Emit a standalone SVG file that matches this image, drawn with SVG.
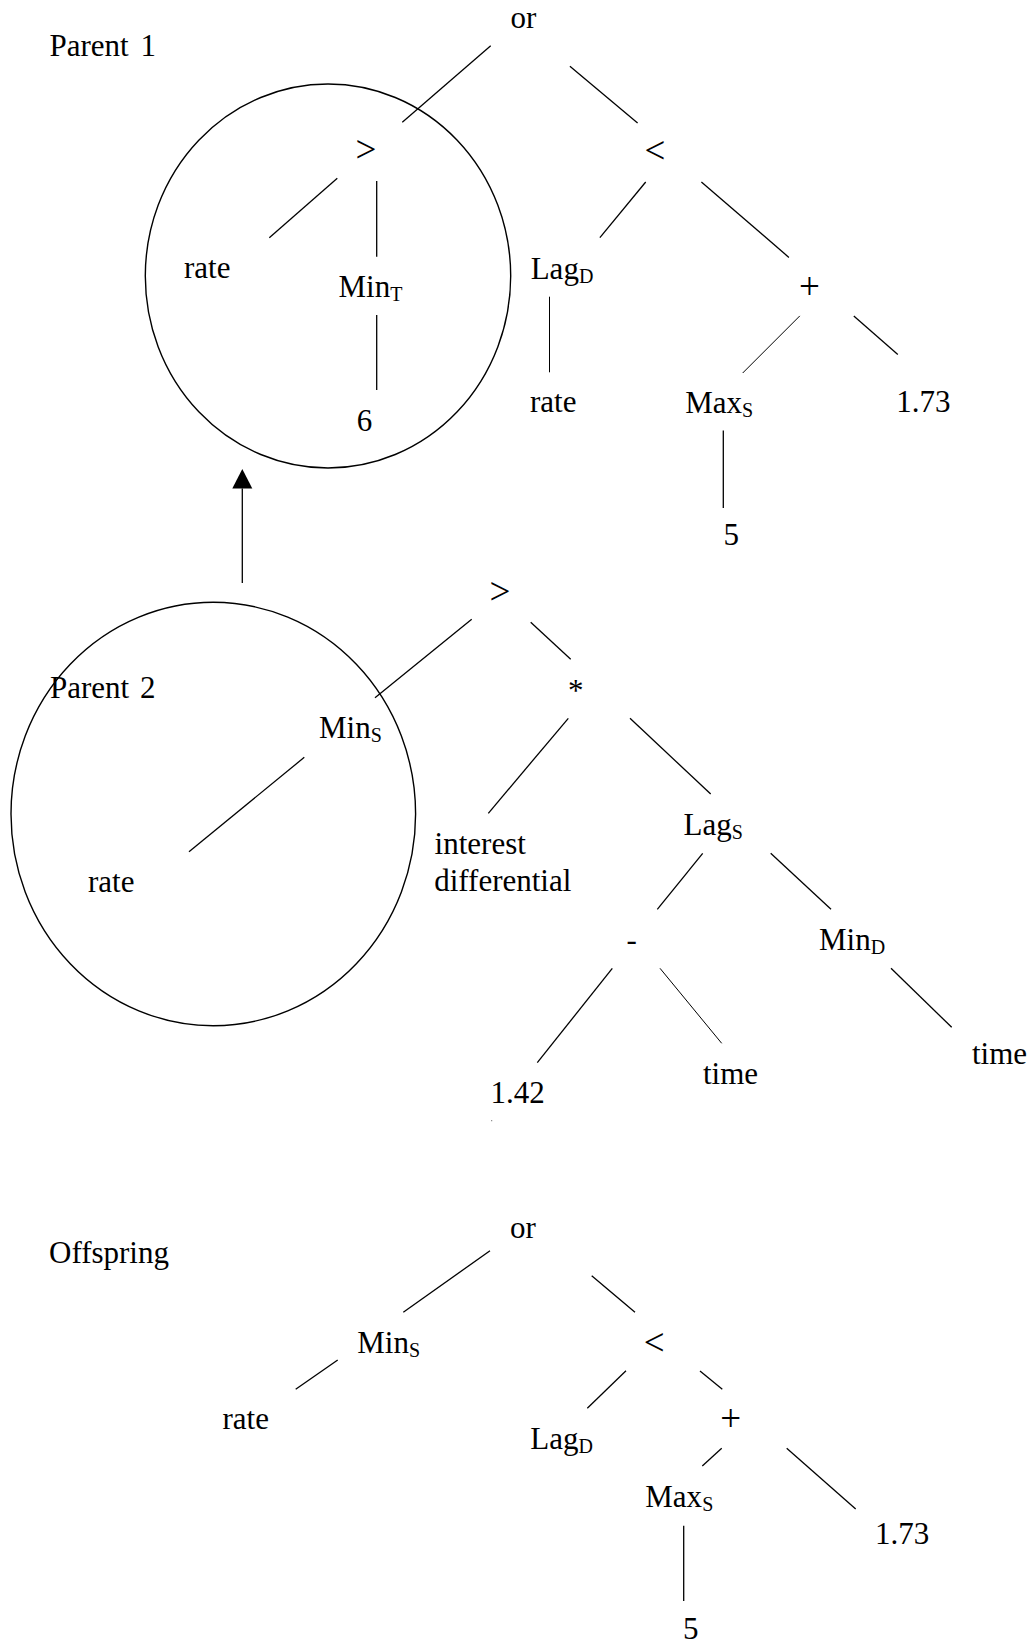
<svg xmlns="http://www.w3.org/2000/svg" width="1030" height="1648" viewBox="0 0 1030 1648">
<defs>
<style>
text{font-family:"Liberation Serif","Times New Roman",serif;font-size:31px;fill:#000}
.sub{font-size:20px}
.op{font-size:37px;text-anchor:middle}
.ln{stroke:#000;stroke-width:1.3;fill:none}
.thin{stroke-width:1}
.ring{stroke:#000;stroke-width:1.4;fill:none}
</style>
<marker id="arrow" markerUnits="userSpaceOnUse" markerWidth="20" markerHeight="20" refX="0" refY="10" orient="auto" overflow="visible">
<path d="M0,0 L19.5,10 L0,20 Z" fill="#000"/>
</marker>
</defs>
<rect width="1030" height="1648" fill="#fff"/>

<g id="highlights">
<ellipse id="circle-parent1" class="ring" cx="328" cy="276" rx="182.7" ry="192"/>
<ellipse id="circle-parent2" class="ring" cx="213.3" cy="814" rx="202.3" ry="211.7"/>
</g>

<g id="connectors">
<!-- Parent 1 -->
<line class="ln" x1="490.7" y1="45.7" x2="402.3" y2="122.3"/>
<line class="ln" x1="569.9" y1="66.3" x2="637.6" y2="123.1"/>
<line class="ln" x1="337.3" y1="178.3" x2="269.3" y2="237.7"/>
<line class="ln" x1="376.7" y1="181" x2="376.7" y2="256.7"/>
<line class="ln" x1="376.7" y1="315" x2="376.7" y2="390"/>
<line class="ln" x1="645.7" y1="182" x2="599.9" y2="237.7"/>
<line class="ln" x1="701.4" y1="182" x2="788.9" y2="257.4"/>
<line class="ln thin" x1="549.5" y1="296.7" x2="549.5" y2="372.3"/>
<line class="ln thin" x1="799.8" y1="315.9" x2="742.7" y2="373"/>
<line class="ln" x1="853.8" y1="315.9" x2="897.8" y2="354.4"/>
<line class="ln" x1="723.3" y1="430.5" x2="723.3" y2="508"/>
<!-- arrow parent2 -> parent1 -->
<line class="ln" x1="242.3" y1="583" x2="242.3" y2="488.5" marker-end="url(#arrow)"/>
<!-- Parent 2 -->
<line class="ln" x1="471.7" y1="619.3" x2="375" y2="697.7"/>
<line class="ln" x1="530.7" y1="622.3" x2="570.7" y2="659.3"/>
<line class="ln" x1="304.3" y1="757.3" x2="189" y2="851.7"/>
<line class="ln" x1="568.3" y1="718.3" x2="488.3" y2="813.3"/>
<line class="ln" x1="630" y1="718.3" x2="710.7" y2="794"/>
<line class="ln" x1="702.7" y1="853.3" x2="657.3" y2="909.3"/>
<line class="ln" x1="770.7" y1="853.3" x2="831" y2="909.3"/>
<line class="ln" x1="612.3" y1="968.3" x2="537.3" y2="1062.7"/>
<line class="ln thin" x1="660" y1="968.3" x2="721.7" y2="1043.3"/>
<line class="ln" x1="891" y1="968.3" x2="951.7" y2="1027.3"/>
<!-- Offspring -->
<line class="ln" x1="490" y1="1250.7" x2="403.3" y2="1312.3"/>
<line class="ln" x1="591.7" y1="1275.7" x2="635" y2="1312.3"/>
<line class="ln" x1="337.7" y1="1360" x2="295.7" y2="1389.3"/>
<line class="ln" x1="626" y1="1370.7" x2="587.3" y2="1408.3"/>
<line class="ln" x1="700" y1="1371" x2="722.3" y2="1389.3"/>
<line class="ln" x1="721.7" y1="1448.3" x2="702.3" y2="1466"/>
<line class="ln" x1="786.7" y1="1448.3" x2="855.7" y2="1509"/>
<line class="ln" x1="683.7" y1="1525.7" x2="683.7" y2="1601"/>
</g>

<g id="labels">
<text id="lbl-parent1" x="49.5" y="56">Parent <tspan dx="4">1</tspan></text>
<text id="lbl-parent2" x="50" y="697.7">Parent <tspan dx="3">2</tspan></text>
<text id="lbl-offspring" x="49" y="1263.3">Offspring</text>
</g>

<!-- Parent 1 tree -->
<g id="p1-or"><text x="510.5" y="28">or</text></g>
<g id="p1-gt"><text class="op" x="366" y="162">&gt;</text></g>
<g id="p1-rate"><text x="184" y="277.7">rate</text></g>
<g id="p1-min"><text x="338.5" y="296.7">Min<tspan class="sub" dy="4">T</tspan></text></g>
<g id="p1-6"><text x="356.7" y="430.7">6</text></g>
<g id="p1-lt"><text class="op" x="655" y="162.5">&lt;</text></g>
<g id="p1-lag"><text x="530.7" y="279.4">Lag<tspan class="sub" dy="4">D</tspan></text></g>
<g id="p1-rate2"><text x="530" y="411.6">rate</text></g>
<g id="p1-plus"><text class="op" x="809.4" y="298.7">+</text></g>
<g id="p1-max"><text x="685.2" y="413">Max<tspan class="sub" dy="4">S</tspan></text></g>
<g id="p1-173"><text x="896.2" y="412">1.73</text></g>
<g id="p1-5"><text x="723.4" y="545.4">5</text></g>

<!-- Parent 2 tree -->
<g id="p2-gt"><text class="op" x="500" y="604">&gt;</text></g>
<g id="p2-min"><text x="319" y="738.3">Min<tspan class="sub" dy="4">S</tspan></text></g>
<g id="p2-rate"><text x="88" y="891.7">rate</text></g>
<g id="p2-mul"><text x="568" y="700.5">*</text></g>
<g id="p2-interest"><text x="434.6" y="854">interest</text><text x="434.2" y="890.7">differential</text></g>
<g id="p2-lag"><text x="683.6" y="835">Lag<tspan class="sub" dy="4">S</tspan></text></g>
<g id="p2-minus"><text x="626.5" y="949.5">-</text></g>
<g id="p2-mind"><text x="819" y="950">Min<tspan class="sub" dy="4">D</tspan></text></g>
<g id="p2-142"><text x="490.6" y="1102.5">1.42</text></g>
<g id="p2-time1"><text x="703" y="1083.5">time</text></g>
<g id="p2-time2"><text x="972" y="1064">time</text></g>
<rect id="stray-dot" x="491.2" y="1120.2" width="1" height="1" fill="#555"/>

<!-- Offspring tree -->
<g id="o-or"><text x="510" y="1238">or</text></g>
<g id="o-min"><text x="357.3" y="1353.3">Min<tspan class="sub" dy="4">S</tspan></text></g>
<g id="o-rate"><text x="222.5" y="1429">rate</text></g>
<g id="o-lt"><text class="op" x="654.3" y="1354.5">&lt;</text></g>
<g id="o-lag"><text x="530.3" y="1449.3">Lag<tspan class="sub" dy="4">D</tspan></text></g>
<g id="o-plus"><text class="op" x="730.7" y="1430.5">+</text></g>
<g id="o-max"><text x="645.3" y="1506.5">Max<tspan class="sub" dy="4">S</tspan></text></g>
<g id="o-173"><text x="875" y="1544">1.73</text></g>
<g id="o-5"><text x="683" y="1639">5</text></g>
</svg>
